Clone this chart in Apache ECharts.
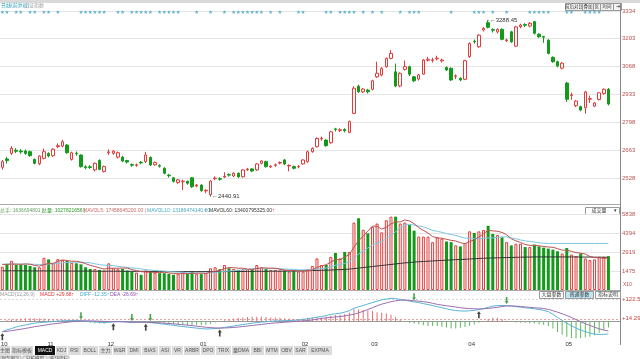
<!DOCTYPE html>
<html><head><meta charset="utf-8">
<script src="https://cdn.jsdelivr.net/npm/echarts@6/dist/echarts.min.js"></script>
<style>html,body{margin:0;padding:0;background:#fff}#c{width:640px;height:359px}</style>
</head><body><div id="c"></div>
<script>
// ---------- DATA ----------
const opens = [2580,2620,2647,2662,2658,2658,2655,2618,2597,2623, 2647,2636,2680,2682,2687,2618,2648,2639,2582,2582, 2567,2613,2559,2650,2647,2629,2629,2612,2593,2589, 2604,2607,2627,2592,2588,2575,2542,2529,2506,2510, 2512,2529,2489,2494,2466,2448,2525,2525,2533,2545, 2538,2551,2534,2568,2572,2567,2599,2607,2582,2589, 2600,2615,2586,2583,2582,2596,2607,2655,2679,2717, 2711,2698,2765,2758,2762,2748,2840,2971,2944,2952, 2956,3016,3025,3065,3105,3040,2972,3052,3065,3016, 3005,3029,3096,3095,3103,3093,3061,3057,3018,3009, 3004,3113,3188,3161,3242,3277,3244,3233,3245,3191, 3233,3164,3258,3268,3261,3282,3222,3210,3193,3110, 3089,3058,2986,2926,2877,2872,2867,2908,2875,2907, 2936,2956];
const closes = [2607,2612,2671,2657,2654,2647,2636,2599,2634,2655, 2634,2667,2684,2703,2650,2650,2645,2583,2578,2579, 2599,2570,2583,2654,2658,2650,2610,2605,2590,2592, 2601,2639,2591,2603,2585,2551,2539,2512,2519,2513, 2503,2486,2494,2467,2469,2513,2528,2522,2536,2542, 2551,2534,2567,2571,2562,2596,2610,2583,2585,2592, 2603,2596,2589,2575,2584,2615,2655,2671,2719,2720, 2684,2751,2762,2761,2756,2800,2961,2944,2957,2944, 2997,3033,3057,3105,3129,2972,3033,3065,3029,2997, 3025,3097,3101,3098,3106,3097,3049,3001,3021,3001, 3094,3177,3185,3217,3250,3255,3241,3245,3197,3194, 3185,3257,3266,3265,3274,3226,3209,3207,3129,3089, 3068,3082,2908,2929,2899,2856,2943,2911,2890,2939, 2956,2885];
const lows = [2568,2598,2640,2648,2645,2640,2630,2594,2590,2618, 2628,2630,2672,2676,2645,2612,2636,2578,2570,2572, 2560,2565,2555,2640,2640,2622,2605,2598,2582,2582, 2594,2600,2586,2587,2578,2546,2530,2506,2500,2470, 2496,2480,2483,2462,2455,2440.91,2518,2515,2528,2535, 2532,2528,2530,2562,2556,2562,2594,2578,2576,2582, 2594,2590,2560,2570,2575,2592,2602,2650,2675,2708, 2679,2694,2752,2750,2748,2744,2836,2938,2938,2936, 2950,3010,3018,3060,3100,2966,2966,3046,3020,2990, 2998,3025,3090,3085,3095,3085,3044,2996,3005,2995, 3000,3108,3176,3156,3235,3250,3230,3225,3192,3184, 3180,3160,3250,3256,3255,3220,3204,3180,3124,3084, 3062,3052,2895,2905,2870,2850,2838,2890,2870,2902, 2930,2878];
const highs = [2615,2630,2682,2672,2668,2666,2660,2622,2638,2670, 2652,2672,2695,2712,2692,2655,2656,2642,2590,2590, 2603,2618,2588,2666,2663,2655,2635,2616,2598,2598, 2610,2654,2632,2607,2594,2580,2548,2533,2524,2520, 2516,2533,2499,2498,2474,2518,2536,2532,2556,2550, 2556,2555,2571,2577,2576,2600,2614,2611,2590,2597, 2608,2620,2594,2588,2590,2619,2660,2676,2724,2728, 2716,2755,2770,2768,2768,2805,2970,2978,2962,2958, 3002,3089,3062,3110,3145,3080,3038,3095,3070,3020, 3030,3102,3112,3108,3118,3104,3066,3062,3028,3014, 3098,3182,3196,3222,3256,3288.45,3250,3250,3250,3200, 3238,3262,3272,3275,3280,3286,3226,3214,3197,3115, 3094,3087,2991,2940,2904,2877,2948,2925,2895,2943, 2960,2962];
const volumes = [1799,2003,2253,1928,1928,1928,1852,1754,1754,2480, 2359,2056,2381,2306,2253,2102,2056,1981,1754,1625, 1625,1550,1497,2056,1678,1603,1625,1497,1421,1346, 1172,1497,1421,1346,1300,1300,1247,1172,1247,1376, 1247,1399,1247,1225,1300,1678,1754,1603,1928,1678, 1625,1550,1603,1603,1603,1928,1754,1625,1550,1550, 1497,1497,1421,1474,1421,1421,1603,1852,2434,1928, 1928,2555,2858,2434,2933,2933,5201,5534,4649,4370, 4876,5126,4445,5383,5655,5655,5126,5201,5005,4574, 4120,4120,4120,3689,4067,3946,3742,3689,3440,3364, 3614,4521,4400,4521,4627,4952,4324,4249,4067,3689, 3440,3568,3568,3311,3311,3493,3364,3266,3190,3115, 2986,2812,3236,2737,2608,2812,2434,2306,2359,2555, 2555,2608];
const mavol5 = [1950,1980,2000,1990,1980,2010,1990,1890,1840,1960, 2040,2060,2210,2320,2270,2220,2220,2140,2030,1900, 1810,1710,1610,1670,1680,1680,1690,1690,1570,1500, 1410,1390,1370,1360,1350,1370,1320,1270,1250,1270, 1260,1290,1300,1300,1280,1370,1440,1510,1650,1730, 1720,1680,1680,1610,1600,1660,1700,1700,1690,1680, 1600,1540,1500,1490,1460,1450,1480,1550,1750,1850, 1950,2150,2340,2340,2540,2740,3290,3810,4140,4540, 4930,4910,4690,4840,5100,5250,5250,5400,5330,5110, 4810,4600,4390,4120,4020,3990,3910,3830,3780,3650, 3570,3730,3870,4090,4340,4600,4560,4530,4440,4260, 3950,3790,3670,3510,3440,3450,3410,3350,3320,3290, 3190,3070,3070,2980,2880,2840,2770,2580,2500,2490, 2440,2470];
const mavol10 = [2000,2000,2010,2010,2000,1990,1990,1980,1970,1980, 2000,2020,2060,2100,2120,2140,2140,2140,2130,2100, 2020,1960,1910,1900,1880,1830,1780,1740,1700,1670, 1620,1580,1530,1500,1480,1450,1420,1400,1380,1370, 1330,1320,1310,1300,1300,1310,1350,1390,1440,1460, 1490,1520,1560,1590,1620,1640,1640,1640,1650,1650, 1640,1620,1590,1580,1560,1550,1560,1570,1620,1650, 1700,1790,1900,1960,2060,2170,2450,2770,3000,3240, 3500,3600,3750,3960,4210,4500,4770,5010,5060,5010, 4940,4870,4740,4600,4530,4450,4350,4280,4210,4100, 4000,3990,3970,3960,3990,4010,4020,4060,4090,4100, 4020,3950,3860,3780,3750,3700,3640,3600,3590,3590, 3590,3590,3590,3590,3590,3590,3590,3590,3590,3590, 3590,3590];
const mavol60 = [1480,1480,1480,1480,1480,1470,1470,1470,1470,1470, 1470,1470,1470,1470,1460,1460,1460,1460,1460,1460, 1450,1450,1450,1450,1450,1450,1440,1440,1440,1440, 1440,1440,1430,1430,1430,1430,1430,1420,1420,1420, 1420,1420,1420,1420,1420,1420,1420,1420,1420,1420, 1430,1430,1430,1430,1440,1440,1440,1440,1450,1450, 1450,1460,1460,1470,1470,1480,1490,1500,1510,1520, 1530,1540,1560,1570,1590,1610,1650,1690,1730,1770, 1810,1850,1890,1930,1970,2010,2050,2090,2120,2150, 2180,2200,2220,2240,2260,2280,2300,2320,2340,2350, 2370,2390,2410,2430,2450,2460,2470,2480,2490,2500, 2510,2520,2530,2540,2540,2550,2550,2550,2550,2550, 2550,2550,2550,2550,2550,2540,2540,2540,2530,2530, 2530,2520];
const diffLine = [-58,-48,-40,-32,-25,-20,-15,-10,-7,-5, -3,-1,1,3,4,5,5,3,1,-1, -3,-5,-7,-5,-2,-1,-2,-4,-7,-6, -5,-5,-7,-10,-13,-16,-19,-22,-26,-29, -32,-35,-38,-41,-43,-42,-40,-38,-34,-30, -26,-22,-18,-14,-10,-7,-4,-2,0,2, 3,4,5,6,8,11,15,19,24,27, 33,39,43,46,52,60,74,82,90,98, 106,114,121,126,130,128,124,120,114,110, 106,100,95,89,83,77,71,65,61,59, 58,60,62,66,72,79,86,89,90,89, 86,83,80,77,74,71,67,62,55,40, 22,5,-10,-25,-38,-49,-58,-66,-72,-74, -73,-71];
const deaLine = [-58,-56,-52,-48,-44,-40,-35,-30,-26,-22, -18,-14,-11,-8,-5,-2,1,3,3,3, 2,1,0,-1,-2,-2,-2,-3,-4,-5, -5,-5,-6,-7,-8,-10,-12,-14,-16,-19, -21,-24,-27,-30,-33,-35,-37,-38,-37,-36, -34,-32,-29,-26,-23,-20,-17,-14,-11,-9, -7,-5,-3,-1,1,3,5,8,12,17, 20,23,25,27,31,35,40,48,57,67, 77,88,97,104,111,116,119,120,118,116, 114,111,108,102,96,92,88,85,81,77, 74,72,71,70,71,73,76,79,84,87, 87,86,84,81,79,77,75,72,68,60, 52,43,33,22,10,-2,-13,-23,-33,-42, -49,-54];
const macdHist = [0,6,10,14,16,18,18,18,16,16, 14,12,12,10,8,6,4,0,-4,-8, -10,-12,-14,-8,0,2,0,-2,-6,-2, 0,0,-2,-6,-10,-12,-14,-16,-20,-20, -22,-22,-22,-22,-20,-14,-6,0,6,12, 16,20,22,24,26,26,26,24,22,22, 20,18,16,14,14,16,20,22,24,20, 26,32,36,38,42,50,68,68,66,62, 58,52,48,44,38,24,10,0,-8,-12, -16,-22,-26,-26,-26,-30,-34,-40,-40,-36, -32,-24,-18,-8,2,12,20,20,12,4, -2,-6,-8,-8,-10,-12,-16,-20,-26,-40, -60,-76,-86,-94,-96,-94,-90,-86,-78,-64, -48,-34];
const starIdx = [0,1,3,4,6,7,9,10,12,17,18,19,20,21,22,25,26,28,29,30,31,32,34,35,36,37,38,42,45,48,50,51,52,53,54,55,56,58,60,64,65,70,71,73,74,75,76,78,80,82,86,88,89,90,97,102,103,104,106,109,114,115,116,117,118,122,123,126,127,128,129];
const goldenIdx = [0,24,31,47,103];
const deathIdx = [17,28,32,89,109];
const monthTickIndex = [0,10,23,43,65,80,101,122];
const monthTickText = ['10','11','12','01','02','03','04','05'];
const priceTicks = [2528,2663,2798,2933,3068,3203,3334];
const volTicks = [1475,2919,4394,5838];
const macdTicks = [14.29,122.5];

// ---------- CHART ----------
const UP = '#e23b3b', DOWN = '#139a1b';
const FONT = '"Liberation Sans","Noto Sans CJK SC",sans-serif';
const SLOTS = opens.length + 2;
const cats = Array.from({length: SLOTS}, (_, i) => String(i));
const candle = opens.map((o, i) => [o, closes[i], lows[i], highs[i]]);
const volItems = volumes.map((v, i) => ({
  value: v,
  itemStyle: closes[i] >= opens[i] ? {color: '#fff', borderColor: UP, borderWidth: 1} : {color: DOWN, borderColor: DOWN, borderWidth: 0}
}));

function T(x, y, text, fill, size, extra) {
  return Object.assign({type: 'text', x: x, y: y, silent: true,
    style: Object.assign({text: text, fill: fill, fontSize: size || 5, fontFamily: FONT, verticalAlign: 'middle'}, (extra || {}))});
}
function R(x, y, w, h, fill, stroke) {
  return {type: 'rect', silent: true, shape: {x: x, y: y, width: w, height: h}, style: {fill: fill, stroke: stroke || null, lineWidth: 1}};
}
function L(x1, y1, x2, y2, stroke) {
  return {type: 'line', silent: true, shape: {x1: x1, y1: y1, x2: x2, y2: y2}, style: {stroke: stroke, lineWidth: 1}};
}

const graphics = [];
graphics.push(R(0, 0, 640, 3, '#d9d9d9'));
graphics.push(T(1, 5.5, '日线(前复权)', '#2a9db5', 5));
graphics.push(T(24, 5.5, '上证指数', '#a0a0a0', 5));
[[565,17,'前后对比'],[582,11,'叠加'],[593,7,'区'],[600,13,'时间'],[613,8,'⇥']].forEach(b => {
  graphics.push(R(b[0] + 0.5, 3.5, b[1], 7, '#f3f3f3', '#999'));
  graphics.push(T(b[0] + b[1] / 2 + 0.5, 7, b[2], '#333', 4.5, {align: 'center'}));
});
graphics.push(L(0, 204.5, 620, 204.5, '#aaa'));
graphics.push(L(0, 290.5, 620, 290.5, '#aaa'));
graphics.push(L(620.5, 3, 620.5, 345, '#888'));
graphics.push(T(0, 211, '总手: 1636694801 |', '#6aa36a', 5));
graphics.push(T(42, 211, '总量: 1027821656 |', '#2a9a2a', 5));
graphics.push(T(83, 211, 'MAVOL5: 17458645200.00 |', '#d06a6a', 5));
graphics.push(T(147, 211, 'MAVOL10: 13186474140.00', '#49a9c4', 5));
graphics.push(T(204, 211, '↑', '#e02020', 5));
graphics.push(T(209, 211, 'MAVOL60: 13400795325.00', '#333', 5));
graphics.push(T(272, 211, '↑', '#e02020', 5));
graphics.push(R(585.5, 207.5, 34, 7, '#fff', '#999'));
graphics.push(T(599, 211, '成交量', '#333', 5, {align: 'center'}));
graphics.push(T(615, 211, '▾', '#333', 5, {align: 'center'}));
graphics.push(T(623, 285, 'X10', '#c0504d', 5));
graphics.push(T(0, 294.5, 'MACD(12,26,9)', '#999', 5));
graphics.push(T(40, 294.5, 'MACD +29.68↑', '#e03030', 5));
graphics.push(T(80, 294.5, 'DIFF -12.35↑', '#3aa8c8', 5));
graphics.push(T(110, 294.5, 'DEA -26.69↑', '#8c4ca8', 5));
[[539,24,'大盘参数','#fff'],[565,28,'普通参数','#bfe6f2'],[595,25,'指标说明','#fff']].forEach(b => {
  graphics.push(R(b[0] + 0.5, 291.5, b[1], 7, b[3], '#999'));
  graphics.push(T(b[0] + b[1] / 2 + 0.5, 295, b[2], '#333', 5, {align: 'center'}));
});
const tabs = [[0,10,'主图'],[11,22,'指标模板'],[35,20,'MACD'],[56,11,'KDJ'],[68,13,'RSI'],[82,16,'BOLL'],[99,13,'主力'],[113,13,'W&R'],[127,14,'DMI'],[142,16,'BIAS'],[159,12,'ASI'],[172,11,'VR'],[184,16,'ARBR'],[201,14,'DPO'],[216,15,'TRIX'],[232,18,'量DMA'],[251,13,'BBI'],[265,14,'MTM'],[280,13,'OBV'],[294,13,'SAR'],[308,24,'EXPMA']];
tabs.forEach(t => {
  const active = t[2] === 'MACD';
  graphics.push(R(t[0], 346, t[1], 9, active ? '#111' : '#dcdcdc', null));
  graphics.push(T(t[0] + t[1] / 2, 350.5, t[2], active ? '#fff' : '#555', 5, {align: 'center'}));
});
[[0,21,'财务图示'],[23,24,'分析模型'],[49,20,'板块指标']].forEach(t => {
  graphics.push(R(t[0], 356, t[1], 4, '#e8e8e8', '#bbb'));
  graphics.push(T(t[0] + t[1] / 2, 358.5, t[2], '#555', 4.5, {align: 'center'}));
});

const arrowUp = 'path://M5,0 L10,5 L7,5 L7,12 L3,12 L3,5 L0,5 Z';
const arrowDown = 'path://M5,12 L10,7 L7,7 L7,0 L3,0 L3,7 L0,7 Z';
const star = 'path://M5,0 L6,3.5 L10,3.5 L7,6 L8,10 L5,7.5 L2,10 L3,6 L0,3.5 L4,3.5 Z';

const hidden = {show: false};
const plain = v => String(v);
const option = {
  animation: false,
  backgroundColor: '#fff',
  grid: [
    {left: 0, right: 20, top: 8, height: 192, outerBoundsMode: 'none', containLabel: false},
    {left: 0, right: 20, top: 207, height: 83, outerBoundsMode: 'none', containLabel: false},
    {left: 0, right: 20, top: 293, height: 47, outerBoundsMode: 'none', containLabel: false}
  ],
  xAxis: [
    {type: 'category', gridIndex: 0, data: cats, axisLine: hidden, axisTick: hidden, axisLabel: hidden, splitLine: hidden},
    {type: 'category', gridIndex: 1, data: cats, axisLine: hidden, axisTick: hidden, axisLabel: hidden, splitLine: hidden},
    {type: 'category', gridIndex: 2, data: cats, axisLine: {show: true, lineStyle: {color: '#999', width: 1}}, axisTick: hidden,
      splitLine: hidden,
      axisLabel: {show: true, interval: (idx) => monthTickIndex.indexOf(idx) >= 0,
        formatter: (v, idx) => monthTickText[monthTickIndex.indexOf(idx)] || '',
        color: '#333', fontSize: 6, fontFamily: FONT, margin: 1, padding: [0, 0, 0, 4], hideOverlap: false}}
  ],
  yAxis: [
    {type: 'value', gridIndex: 0, position: 'right', min: 2422, max: 3348, scale: true,
      axisLine: hidden, axisTick: {show: false, customValues: priceTicks},
      axisLabel: {show: true, customValues: priceTicks, formatter: plain, color: '#c0504d', fontSize: 6, fontFamily: FONT, margin: 2},
      splitLine: {show: true, lineStyle: {color: '#e4e4e4', width: 1}}},
    {type: 'value', gridIndex: 0, min: 0, max: 1, show: false, splitLine: hidden},
    {type: 'value', gridIndex: 1, position: 'right', min: 0, max: 6400,
      axisLine: hidden, axisTick: {show: false, customValues: volTicks},
      axisLabel: {show: true, customValues: volTicks, formatter: plain, color: '#c0504d', fontSize: 6, fontFamily: FONT, margin: 2},
      splitLine: {show: true, lineStyle: {color: '#e4e4e4', width: 1}}},
    {type: 'value', gridIndex: 2, position: 'right', min: -105, max: 160,
      axisLine: hidden, axisTick: {show: false, customValues: macdTicks},
      axisLabel: {show: true, customValues: macdTicks, color: '#d04040', fontSize: 6, fontFamily: FONT, margin: 2,
        formatter: v => '+' + v},
      splitLine: {show: true, lineStyle: {color: ['#eaa0a0', '#d8d8d8'], width: 1, type: [2, 2]}}}
  ],
  series: [
    {type: 'candlestick', xAxisIndex: 0, yAxisIndex: 0, data: candle, barWidth: 3,
      itemStyle: {color: '#fff', color0: DOWN, borderColor: UP, borderColor0: DOWN, borderWidth: 1},
      markPoint: {symbol: 'circle', symbolSize: 1, itemStyle: {color: '#333'},
        label: {show: true, position: 'right', distance: 1, fontSize: 6, fontFamily: FONT, color: '#333',
          formatter: p => '\u2190' + p.value},
        data: [{type: 'max', valueDim: 'highest'}, {type: 'min', valueDim: 'lowest'}]}},
    {type: 'scatter', xAxisIndex: 0, yAxisIndex: 1, symbol: star, symbolSize: 4,
      itemStyle: {color: '#2f9fc2'}, data: starIdx.map(i => [i, 0.979]), silent: true},
    {type: 'bar', xAxisIndex: 1, yAxisIndex: 2, data: volItems, barWidth: 3},
    {type: 'line', xAxisIndex: 1, yAxisIndex: 2, data: mavol60, symbol: 'none', lineStyle: {color: '#333', width: 1}},
    {type: 'line', xAxisIndex: 1, yAxisIndex: 2, data: mavol10, symbol: 'none', lineStyle: {color: '#7cc6e0', width: 1}},
    {type: 'line', xAxisIndex: 1, yAxisIndex: 2, data: mavol5, symbol: 'none', lineStyle: {color: '#c0504d', width: 1}},
    {type: 'bar', xAxisIndex: 2, yAxisIndex: 3, data: macdHist, barWidth: 1,
      itemStyle: {color: p => p.value >= 0 ? '#e07070' : '#5cb85c'}},
    {type: 'line', xAxisIndex: 2, yAxisIndex: 3, data: diffLine, symbol: 'none', lineStyle: {color: '#5ab4d6', width: 1}},
    {type: 'line', xAxisIndex: 2, yAxisIndex: 3, data: deaLine, symbol: 'none', lineStyle: {color: '#9c6fb0', width: 1}},
    {type: 'scatter', xAxisIndex: 2, yAxisIndex: 3, symbol: arrowUp, symbolSize: [4, 7], symbolOffset: [0, 5],
      itemStyle: {color: '#111'}, data: goldenIdx.map(i => [i, diffLine[i]])},
    {type: 'scatter', xAxisIndex: 2, yAxisIndex: 3, symbol: arrowDown, symbolSize: [4, 7], symbolOffset: [0, -5],
      itemStyle: {color: '#1c8c1c'}, data: deathIdx.map(i => [i, diffLine[i]])}
  ],
  graphic: graphics
};
const chart = echarts.init(document.getElementById('c'));
chart.setOption(option);
</script>
</body></html>
